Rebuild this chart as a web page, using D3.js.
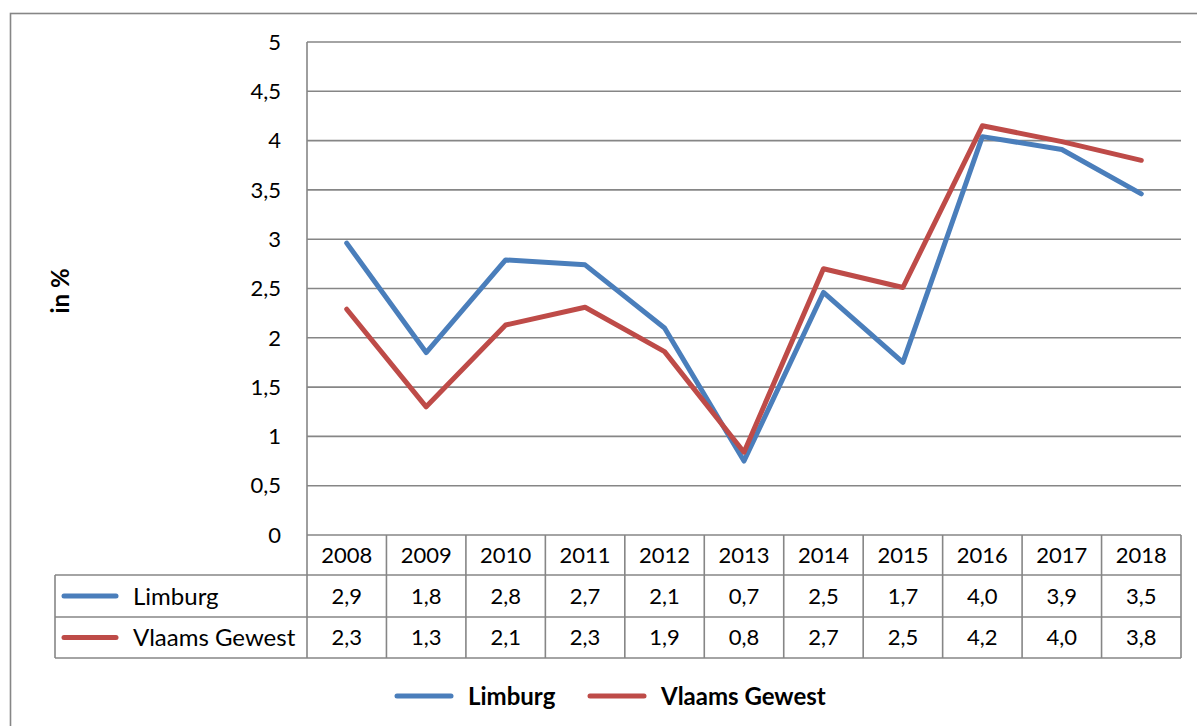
<!DOCTYPE html>
<html lang="nl">
<head>
<meta charset="utf-8">
<style>
  html, body { margin:0; padding:0; overflow:hidden; background:#fff; }
  svg { display:block; font-family: Lato, "Open Sans", sans-serif; }
  .grid line { stroke:#868686; stroke-width:1.6px; }
  .tbl line { stroke:#868686; stroke-width:1.6px; }
  .tick-lbl { font-size:22px; fill:#000; }
  .cell { font-size:22px; fill:#000; }
  .name { font-size:24px; fill:#000; }
</style>
</head>
<body>
<svg width="1197" height="726"></svg>
<script src="https://cdn.jsdelivr.net/npm/d3@7"></script>
<script>
// jaren
var years = ["2008","2009","2010","2011","2012","2013","2014","2015","2016","2017","2018"];
// waarden zoals geplot
var limburg = [2.96, 1.85, 2.79, 2.74, 2.10, 0.75, 2.46, 1.75, 4.04, 3.91, 3.46];
var vlaams  = [2.29, 1.30, 2.13, 2.31, 1.86, 0.84, 2.70, 2.51, 4.15, 3.99, 3.80];
// waarden zoals in de tabel
var limburgTbl = ["2,9","1,8","2,8","2,7","2,1","0,7","2,5","1,7","4,0","3,9","3,5"];
var vlaamsTbl  = ["2,3","1,3","2,1","2,3","1,9","0,8","2,7","2,5","4,2","4,0","3,8"];
var yTicks = [0, 0.5, 1, 1.5, 2, 2.5, 3, 3.5, 4, 4.5, 5];

var series = [
  {name:"Limburg", values:limburg, tbl:limburgTbl, color:"#4a7ebb"},
  {name:"Vlaams Gewest", values:vlaams, tbl:vlaamsTbl, color:"#be4b48"}
];

var svg = d3.select("svg");
var plotL = 307, plotR = 1181, plotT = 42, plotB = 535;
var rowH = [40, 42, 41];
var tblLeft = 55;

var x = d3.scaleBand().domain(years).range([plotL, plotR]);
var y = d3.scaleLinear().domain([0, 5]).range([plotB, plotT]);
var fmt = function (v) { return String(v).replace(".", ","); };

// kader
svg.append("rect")
  .attr("x", 10.5).attr("y", 13.5)
  .attr("width", 1300).attr("height", 800)
  .attr("fill", "none").attr("stroke", "#868686").attr("stroke-width", 1.6);

// rasterlijnen
svg.append("g").attr("class", "grid")
  .selectAll("line").data(yTicks.filter(function (d) { return d > 0; }))
  .enter().append("line")
  .attr("x1", plotL).attr("x2", plotR)
  .attr("y1", function (d) { return y(d); })
  .attr("y2", function (d) { return y(d); });

svg.append("g").selectAll("text").data(yTicks)
  .enter().append("text")
  .attr("class", "tick-lbl")
  .attr("x", 281)
  .attr("y", function (d) { return y(d); })
  .attr("dy", "0.35em")
  .attr("text-anchor", "end")
  .text(fmt);

// y-as titel
svg.append("text")
  .attr("transform", "translate(69,291) rotate(-90)")
  .attr("text-anchor", "middle")
  .style("font-size", "24px").style("font-weight", "bold")
  .text("in %");

// tabel
var y0 = plotB, y1 = y0 + rowH[0], y2 = y1 + rowH[1], y3 = y2 + rowH[2];
var tbl = svg.append("g").attr("class", "tbl");
tbl.append("line").attr("x1", plotL).attr("x2", plotR).attr("y1", y0).attr("y2", y0);
[y1, y2, y3].forEach(function (yy) {
  tbl.append("line").attr("x1", tblLeft).attr("x2", plotR).attr("y1", yy).attr("y2", yy);
});
var vx = years.map(function (d) { return x(d); }).concat([plotR]);
tbl.selectAll("line.v").data(vx).enter().append("line")
  .attr("class", "v")
  .attr("x1", function (d) { return d; }).attr("x2", function (d) { return d; })
  .attr("y1", function (d, i) { return i === 0 ? plotT : y0; })
  .attr("y2", y3);
tbl.append("line").attr("x1", tblLeft).attr("x2", tblLeft).attr("y1", y1).attr("y2", y3);

// jaartallen
svg.append("g").selectAll("text").data(years).enter().append("text")
  .attr("class", "cell")
  .attr("x", function (d) { return x(d) + x.bandwidth() / 2; })
  .attr("y", (y0 + y1) / 2).attr("dy", "0.36em")
  .attr("text-anchor", "middle")
  .text(function (d) { return d; });

var rowsY = [(y1 + y2) / 2, (y2 + y3) / 2];
series.forEach(function (s, si) {
  var g = svg.append("g");
  g.append("line")
    .attr("x1", 64).attr("x2", 116)
    .attr("y1", rowsY[si]).attr("y2", rowsY[si])
    .attr("stroke", s.color).attr("stroke-width", 5).attr("stroke-linecap", "round");
  g.append("text").attr("class", "name")
    .attr("x", 133).attr("y", rowsY[si]).attr("dy", "0.36em")
    .text(s.name);
  g.selectAll("text.v").data(s.tbl).enter().append("text")
    .attr("class", "cell v")
    .attr("x", function (d, i) { return x(years[i]) + x.bandwidth() / 2; })
    .attr("y", rowsY[si]).attr("dy", "0.36em")
    .attr("text-anchor", "middle")
    .text(function (d) { return d; });
});

// lijnen
var line = d3.line()
  .x(function (d, i) { return x(years[i]) + x.bandwidth() / 2; })
  .y(function (d) { return y(d); });

series.forEach(function (s) {
  svg.append("path")
    .datum(s.values)
    .attr("d", line)
    .attr("fill", "none")
    .attr("stroke", s.color)
    .attr("stroke-width", 5)
    .attr("stroke-linejoin", "round")
    .attr("stroke-linecap", "round");
});

// legenda
var legX = [397, 590];
series.forEach(function (s, i) {
  var g = svg.append("g").attr("transform", "translate(" + legX[i] + ",696)");
  g.append("line").attr("x1", 0).attr("x2", 54)
    .attr("stroke", s.color).attr("stroke-width", 5).attr("stroke-linecap", "round");
  g.append("text").attr("x", 71).attr("dy", "0.36em")
    .style("font-size", "24px").style("font-weight", "bold")
    .text(s.name);
});
</script>
</body>
</html>
